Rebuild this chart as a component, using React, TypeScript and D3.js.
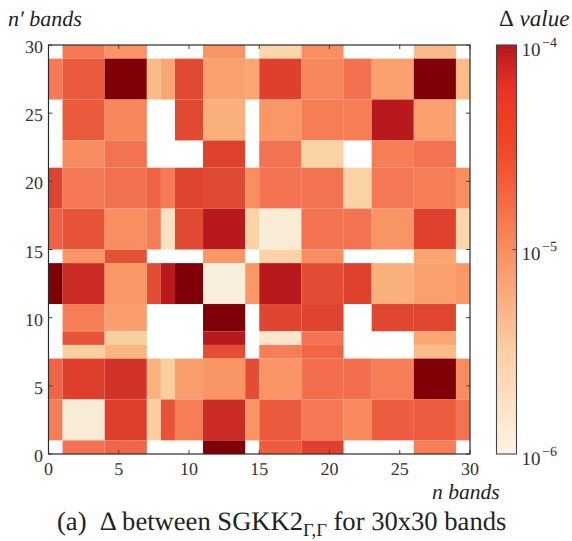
import React from "react";
import * as d3 from "d3";

// band edges, the degenerate groups make the cells uneven
const bandEdges = [0, 1, 4, 7, 8, 9, 11, 14, 15, 18, 21, 23, 26, 29, 30];
const bandTicks = [0, 5, 10, 15, 20, 25, 30];

const _ = null; // white cell, no value
const OVER = 2e-4; // darker than the top of the colorbar

// top row first (n' 29-30 down to n' 0-1)
const row29 = [_, 1.4e-5, 9e-6, _, _, _, 9e-6, _, 2.8e-6, 1e-5, _, _, 4.5e-6, _];
const row26 = [1.4e-5, 2.2e-5, OVER, 4.5e-6, 6.5e-6, 3e-5, 7.2e-6, 6.5e-6, 4e-5, 1.15e-5, 1.6e-5, 7.2e-6, OVER, 4.5e-6];
const row23 = [_, 2.2e-5, 1.15e-5, _, _, 3e-5, 5.5e-6, _, 8.5e-6, 1.3e-5, 1.3e-5, 1e-4, 7.2e-6, _];
const row21 = [_, 1.05e-5, 1.55e-5, _, _, _, 3.8e-5, _, 1.55e-5, 3e-6, _, 1.3e-5, 1.55e-5, _];
const row18 = [3.5e-5, 1.4e-5, 1.6e-5, 1.9e-5, 1.4e-5, 3.5e-5, 3e-5, 1e-5, 1.55e-5, 1.55e-5, 3e-6, 1.4e-5, 1.3e-5, 1e-5];
const row15 = [1.9e-5, 2.5e-5, 1e-5, 1.3e-5, 1.8e-6, 3e-5, 1e-4, 3e-6, 1.2e-6, 1.55e-5, 1.55e-5, 9e-6, 3.8e-5, 2.8e-6];
const row14 = [_, 8.5e-6, 2.6e-5, _, _, _, 8.5e-6, _, 3e-6, 1e-5, _, _, 6.5e-6, _];
const row11 = [OVER, 6.5e-5, 8.5e-6, 2.8e-5, 1e-4, OVER, 1.1e-6, 8.5e-6, 1e-4, 2.8e-5, 3.8e-5, 5.5e-6, 7.2e-6, 8.3e-6];
const row9 = [_, 1.3e-5, 7.5e-6, _, _, _, OVER, _, 3.4e-5, 3.6e-5, _, 3.3e-5, 3.3e-5, _];
const row8 = [_, 2.5e-5, 3.2e-6, _, _, _, 1e-4, _, 1.5e-6, 1.55e-5, _, _, 6.5e-6, _];
const row7 = [_, 3.2e-6, 5e-6, _, _, _, 2.8e-5, _, 1.3e-5, 1.85e-5, _, _, 4.5e-6, _];
const row4 = [1.85e-5, 4.2e-5, 5.5e-5, 5.2e-6, 3.2e-6, 7.5e-6, 9e-6, 2.8e-5, 9e-6, 1.65e-5, 1.65e-5, 1.3e-5, OVER, 1.05e-5];
const row1 = [1.3e-5, 1.2e-6, 4.2e-5, 3.2e-6, 2.5e-5, 1.3e-5, 6.5e-5, 9e-6, 2.2e-5, 1.4e-5, 1.1e-5, 2.1e-5, 2.1e-5, 1.55e-5];
const row0 = [_, 1.55e-5, 1.85e-5, _, _, _, OVER, _, 2.1e-5, 3.8e-5, _, _, 1.3e-5, _];
const deltaRows = [row29, row26, row23, row21, row18, row15, row14, row11, row9, row8, row7, row4, row1, row0];

const cellValues = [1e-6, 2.8e-6, 5e-6, 7.2e-6, 1e-5, 1.6e-5, 2.1e-5, 3e-5, 4.5e-5, 6e-5, 1e-4, 2e-4];
const cellColors = ["#f9f0e1", "#f9d7aa", "#f9b680", "#f9a06e", "#f98f60", "#f37050", "#ed5c3e", "#e04a33", "#dc3d2b", "#cd2e26", "#b8191c", "#800008"];

const barValues = [1e-6, 3.16e-6, 1e-5, 2e-5, 3.2e-5, 6e-5, 1e-4];
const barColors = ["#fff3e5", "#fdcfa5", "#f98e5e", "#f4603f", "#ef4726", "#ee3323", "#b5161c"];
const barTicks = [1e-4, 1e-5, 1e-6];

const serif = "'Liberation Serif', serif";

export default function App() {
  const left = 48.5, right = 470, top = 45, bottom = 454;
  const barLeft = 496.5, barRight = 516.5;

  const x = d3.scaleLinear().domain([0, 30]).range([left, right]);
  const y = d3.scaleLinear().domain([0, 30]).range([bottom, top]);
  const cellColor = d3.scaleLog<string>().domain(cellValues).range(cellColors).clamp(true);
  const barColor = d3.scaleLog<string>().domain(barValues).range(barColors);
  const barY = d3.scaleLog().domain([1e-6, 1e-4]).range([bottom, top]);

  // rows are listed from the top, so walk the edges backwards
  const rowEdges = [...bandEdges].reverse();
  const inkDark = "#2b2b2b";

  return (
    <svg
      width={572}
      height={541}
      style={{ position: "absolute", left: 0, top: 0 }}
      fontFamily={serif}
      fill="#222"
      textRendering="geometricPrecision"
    >
      <defs>
        <linearGradient id="bar" x1="0" y1="1" x2="0" y2="0">
          {d3.range(0, 1.001, 0.05).map((t) => (
            <stop key={t} offset={t} stopColor={barColor(Math.pow(10, -6 + 2 * t))} />
          ))}
        </linearGradient>
      </defs>

      {deltaRows.map((row, r) =>
        row.map((v, c) =>
          v === null ? null : (
            <rect
              key={r + "-" + c}
              x={x(bandEdges[c])}
              y={y(rowEdges[r])}
              width={x(bandEdges[c + 1]) - x(bandEdges[c])}
              height={y(rowEdges[r + 1]) - y(rowEdges[r])}
              fill={cellColor(v)}
            />
          )
        )
      )}

      {/* inward ticks on all four sides */}
      <g stroke="#444" strokeWidth={1}>
        {bandTicks.map((t) => (
          <g key={t}>
            <line x1={x(t)} x2={x(t)} y1={bottom} y2={bottom - 4} />
            <line x1={x(t)} x2={x(t)} y1={top} y2={top + 4} />
            <line x1={left} x2={left + 4} y1={y(t)} y2={y(t)} />
            <line x1={right} x2={right - 4} y1={y(t)} y2={y(t)} />
          </g>
        ))}
      </g>
      <rect x={left} y={top} width={right - left} height={bottom - top} fill="none" stroke={inkDark} strokeWidth={1.2} />

      <g fontSize={18} fill="#333">
        {bandTicks.map((t) => (
          <text key={t} x={x(t)} y={474.5} textAnchor="middle">{t}</text>
        ))}
        {bandTicks.map((t) => (
          <text key={t} x={43} y={y(t) + 8} textAnchor="end">{t}</text>
        ))}
      </g>

      <rect x={barLeft} y={top} width={barRight - barLeft} height={bottom - top} fill="url(#bar)" />
      <rect x={barLeft} y={top} width={barRight - barLeft} height={bottom - top} fill="none" stroke="#444" strokeWidth={1.1} />
      <line x1={barRight - 4} x2={barRight} y1={barY(1e-5)} y2={barY(1e-5)} stroke="#444" />
      {barTicks.map((t) => (
        <text key={t} x={521.5} y={barY(t) + 10.5} fontSize={19} fill="#333">
          10
          <tspan x={542} dy={-9} fontSize={14}>{"\u2212" + -Math.log10(t)}</tspan>
        </text>
      ))}

      <g fontStyle="italic" fontSize={22}>
        <text x={8} y={26}>{"n\u2032 bands"}</text>
        <text x={499} y={26} fontSize={23}><tspan fontStyle="normal">{"\u0394"}</tspan> value</text>
        <text x={432} y={499} fontSize={21.5}>n bands</text>
      </g>

      <text x={57} y={530} fontSize={26.6} xmlSpace="preserve">
        {"(a)  \u0394 between SGKK2"}
        <tspan dy={6} fontSize={18.5}>{"\u0393,\u0393"}</tspan>
        <tspan dy={-6}>{" for 30x30 bands"}</tspan>
      </text>
    </svg>
  );
}
